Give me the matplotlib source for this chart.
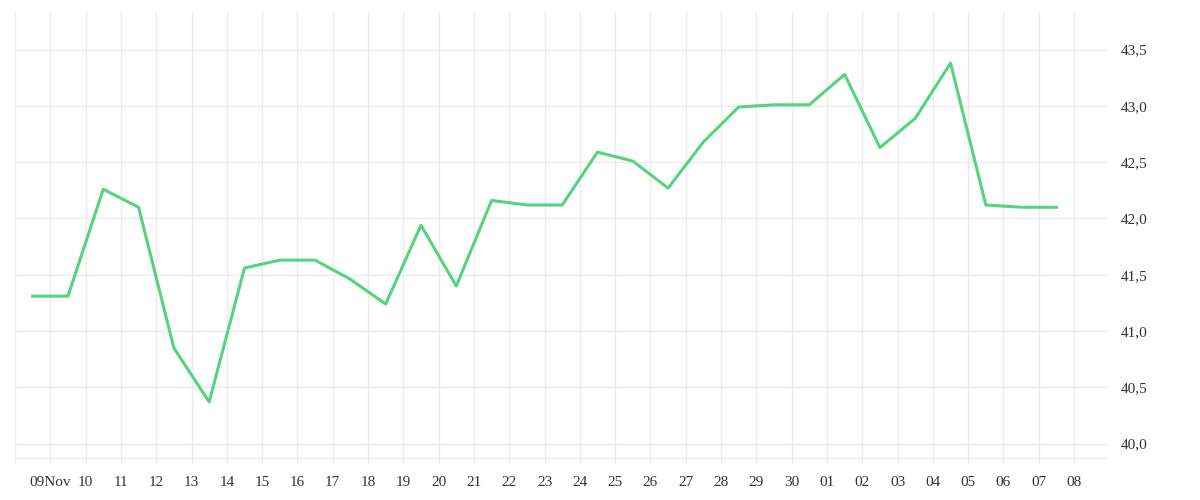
import matplotlib.pyplot as plt
import numpy as np

valores = [41.31, 41.31, 42.26, 42.10, 40.85, 40.37, 41.56, 41.63, 41.63, 41.46,
           41.24, 41.94, 41.40, 42.16, 42.12, 42.12, 42.59, 42.51, 42.27, 42.68,
           42.99, 43.01, 43.01, 43.28, 42.63, 42.89, 43.38, 42.12, 42.10, 42.10]
etiquetas = ['09Nov'] + [str(d) for d in range(10, 31)] + ['%02d' % d for d in range(1, 9)]
yticks = [40.0, 40.5, 41.0, 41.5, 42.0, 42.5, 43.0, 43.5]

plt.rcParams['font.family'] = ['Liberation Serif', 'DejaVu Serif']
fig = plt.figure(figsize=(12, 5), dpi=100)
ax = fig.add_axes([0.0125, 0.07, 0.912, 0.905])

x = np.arange(len(valores)) - 0.5
ax.plot(x, valores, color='#55d47f', lw=2.2)

ax.set_xlim(-1, 30)
ax.set_ylim(39.81, 43.83)
ax.set_xticks(range(len(etiquetas)))
ax.set_xticklabels(etiquetas)
ax.set_xticks([-1, 30], minor=True)
ax.set_yticks(yticks)
ax.set_yticklabels([('%.1f' % v).replace('.', ',') for v in yticks])
ax.yaxis.tick_right()
ax.tick_params(length=0, labelsize=11, colors='#333333', pad=8)
ax.tick_params(axis='x', which='minor', length=0)
ax.grid(True, which='both', color='#ebebeb', lw=1)
ax.axhline(39.875, color='#ebebeb', lw=1)
for s in ax.spines.values():
    s.set_visible(False)

fig.savefig('out.png')
